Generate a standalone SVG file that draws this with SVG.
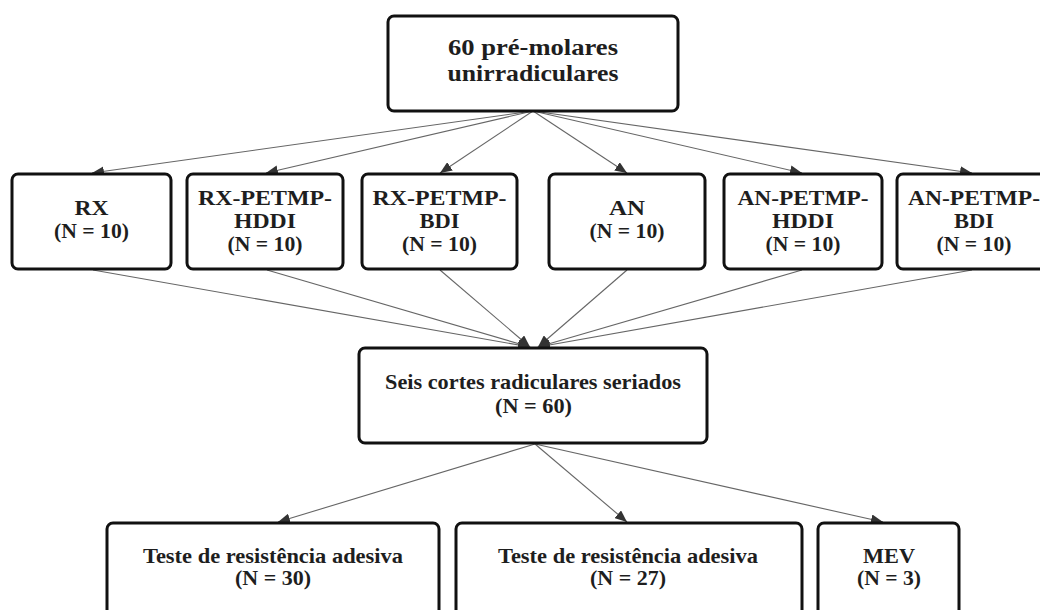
<svg xmlns="http://www.w3.org/2000/svg" width="1040" height="610" viewBox="0 0 1040 610">
<style>
.box{fill:#fff;stroke:#111;stroke-width:3}
.t{font-family:"Liberation Serif","Times New Roman",serif;font-weight:bold;fill:#1e1e1e;text-anchor:middle}
.t20{font-size:20px}
.t21{font-size:21px}
.t23{font-size:23px}
.c{stroke:#666;stroke-width:1.1;fill:none}
</style>
<defs>
<marker id="ah" viewBox="0 0 12 10" refX="12" refY="5" markerWidth="12" markerHeight="10" orient="auto" markerUnits="userSpaceOnUse">
<path d="M0,0 L12,5 L0,10 z" fill="#333"/>
</marker>
</defs>
<rect width="1040" height="610" fill="#fff"/>
<g id="connectors">
<line class="c" x1="533" y1="111" x2="92" y2="173" marker-end="url(#ah)"/>
<line class="c" x1="533" y1="111" x2="266" y2="173" marker-end="url(#ah)"/>
<line class="c" x1="533" y1="111" x2="440" y2="173" marker-end="url(#ah)"/>
<line class="c" x1="533" y1="111" x2="627" y2="173" marker-end="url(#ah)"/>
<line class="c" x1="533" y1="111" x2="802" y2="173" marker-end="url(#ah)"/>
<line class="c" x1="533" y1="111" x2="972" y2="173" marker-end="url(#ah)"/>
<line class="c" x1="93" y1="270" x2="530" y2="347" marker-end="url(#ah)"/>
<line class="c" x1="267" y1="270" x2="530" y2="347" marker-end="url(#ah)"/>
<line class="c" x1="440" y1="270" x2="530" y2="347" marker-end="url(#ah)"/>
<line class="c" x1="627" y1="270" x2="538" y2="347" marker-end="url(#ah)"/>
<line class="c" x1="802" y1="270" x2="538" y2="347" marker-end="url(#ah)"/>
<line class="c" x1="972" y1="270" x2="538" y2="347" marker-end="url(#ah)"/>
<line class="c" x1="535" y1="444" x2="278" y2="522" marker-end="url(#ah)"/>
<line class="c" x1="535" y1="444" x2="627" y2="522" marker-end="url(#ah)"/>
<line class="c" x1="535" y1="444" x2="883" y2="522" marker-end="url(#ah)"/>
</g>
<g id="n-top">
<rect class="box" x="388" y="16" width="290" height="95" rx="6"/>
<text class="t t23" x="533" y="55" textLength="170" lengthAdjust="spacingAndGlyphs">60 pré-molares</text>
<text class="t t23" x="533" y="81" textLength="171" lengthAdjust="spacingAndGlyphs">unirradiculares</text>
</g>
<g id="n-rx">
<rect class="box" x="12" y="174" width="159" height="95" rx="6"/>
<text class="t t20" x="91.5" y="215" textLength="34" lengthAdjust="spacingAndGlyphs">RX</text>
<text class="t t20" x="91.5" y="238" textLength="75" lengthAdjust="spacingAndGlyphs">(N = 10)</text>
</g>
<g id="n-rx-hddi">
<rect class="box" x="187" y="174" width="156" height="95" rx="6"/>
<text class="t t20" x="265" y="205" textLength="134" lengthAdjust="spacingAndGlyphs">RX-PETMP-</text>
<text class="t t20" x="265" y="228" textLength="62" lengthAdjust="spacingAndGlyphs">HDDI</text>
<text class="t t20" x="265" y="251" textLength="75" lengthAdjust="spacingAndGlyphs">(N = 10)</text>
</g>
<g id="n-rx-bdi">
<rect class="box" x="362" y="174" width="155" height="95" rx="6"/>
<text class="t t20" x="439.5" y="205" textLength="134" lengthAdjust="spacingAndGlyphs">RX-PETMP-</text>
<text class="t t20" x="439.5" y="228" textLength="40" lengthAdjust="spacingAndGlyphs">BDI</text>
<text class="t t20" x="439.5" y="251" textLength="75" lengthAdjust="spacingAndGlyphs">(N = 10)</text>
</g>
<g id="n-an">
<rect class="box" x="549" y="174" width="156" height="95" rx="6"/>
<text class="t t20" x="627" y="215" textLength="36" lengthAdjust="spacingAndGlyphs">AN</text>
<text class="t t20" x="627" y="238" textLength="75" lengthAdjust="spacingAndGlyphs">(N = 10)</text>
</g>
<g id="n-an-hddi">
<rect class="box" x="724" y="174" width="158" height="95" rx="6"/>
<text class="t t20" x="803" y="205" textLength="131" lengthAdjust="spacingAndGlyphs">AN-PETMP-</text>
<text class="t t20" x="803" y="228" textLength="62" lengthAdjust="spacingAndGlyphs">HDDI</text>
<text class="t t20" x="803" y="251" textLength="75" lengthAdjust="spacingAndGlyphs">(N = 10)</text>
</g>
<g id="n-an-bdi">
<rect class="box" x="897" y="174" width="156" height="95" rx="6"/>
<text class="t t20" x="974" y="205" textLength="132" lengthAdjust="spacingAndGlyphs">AN-PETMP-</text>
<text class="t t20" x="974" y="228" textLength="40" lengthAdjust="spacingAndGlyphs">BDI</text>
<text class="t t20" x="974" y="251" textLength="75" lengthAdjust="spacingAndGlyphs">(N = 10)</text>
</g>
<g id="n-cortes">
<rect class="box" x="359" y="348" width="348" height="95" rx="6"/>
<text class="t t21" x="533" y="389" textLength="296" lengthAdjust="spacingAndGlyphs">Seis cortes radiculares seriados</text>
<text class="t t21" x="533.5" y="413" textLength="77" lengthAdjust="spacingAndGlyphs">(N = 60)</text>
</g>
<g id="n-teste30">
<rect class="box" x="107" y="523" width="332" height="120" rx="6"/>
<text class="t t21" x="273" y="563" textLength="260" lengthAdjust="spacingAndGlyphs">Teste de resistência adesiva</text>
<text class="t t21" x="273" y="585" textLength="76" lengthAdjust="spacingAndGlyphs">(N = 30)</text>
</g>
<g id="n-teste27">
<rect class="box" x="456" y="523" width="346" height="120" rx="6"/>
<text class="t t21" x="628" y="563" textLength="260" lengthAdjust="spacingAndGlyphs">Teste de resistência adesiva</text>
<text class="t t21" x="628" y="585" textLength="76" lengthAdjust="spacingAndGlyphs">(N = 27)</text>
</g>
<g id="n-mev">
<rect class="box" x="818" y="523" width="141" height="120" rx="6"/>
<text class="t t21" x="889" y="563" textLength="52" lengthAdjust="spacingAndGlyphs">MEV</text>
<text class="t t21" x="889" y="585" textLength="64" lengthAdjust="spacingAndGlyphs">(N = 3)</text>
</g>
</svg>
